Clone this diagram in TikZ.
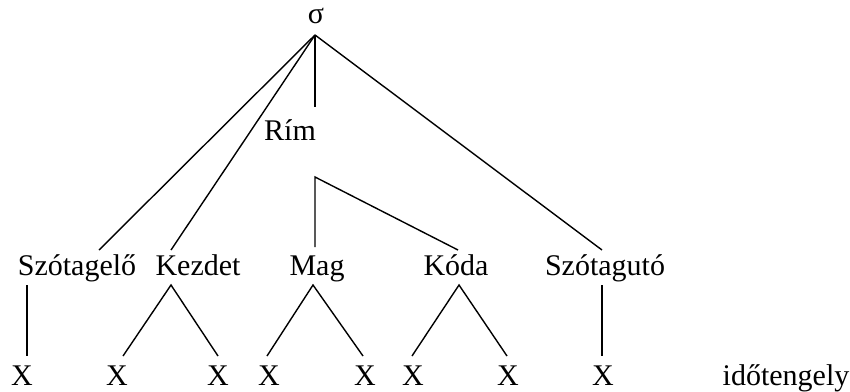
\documentclass[tikz,border=0pt]{standalone}
\usepackage{fontspec}
\setmainfont{Liberation Serif}
\begin{document}
\begin{tikzpicture}[x=1pt,y=-1pt,
  lbl/.style={anchor=base,inner sep=0pt,font=\fontsize{30}{36}\selectfont},
  branch/.style={line width=1.4pt}]
\useasboundingbox (0,0) rectangle (850,391);

% labels
\node[lbl] (sigma) at (316,23) {σ};
\node[lbl] (rim) at (290,140) {Rím};
\node[lbl] (szelo) at (77,275) {Szótagelő};
\node[lbl] (kezdet) at (198,275) {Kezdet};
\node[lbl] (mag) at (317,275) {Mag};
\node[lbl] (koda) at (456,275) {Kóda};
\node[lbl] (szuto) at (605,275) {Szótagutó};
\node[lbl] (x1) at (22,385) {X};
\node[lbl] (x2) at (117,385) {X};
\node[lbl] (x3) at (218,385) {X};
\node[lbl] (x4) at (269,385) {X};
\node[lbl] (x5) at (365,385) {X};
\node[lbl] (x6) at (413,385) {X};
\node[lbl] (x7) at (508,385) {X};
\node[lbl] (x8) at (603,385) {X};
\node[lbl] (ido) at (786,385) {időtengely};

% attachment points of the branches
\coordinate (sigma-b) at (315,35);
\coordinate (rim-t) at (315,107);
\coordinate (rim-b) at (315,177);
\coordinate (szelo-t) at (99,250);
\coordinate (kezdet-t) at (171,250);
\coordinate (mag-t) at (315,247);
\coordinate (koda-t) at (458,250);
\coordinate (szuto-t) at (602,250);
\coordinate (szelo-b) at (27,285);
\coordinate (kezdet-b) at (171,285);
\coordinate (mag-b) at (313,285);
\coordinate (koda-b) at (459,285);
\coordinate (szuto-b) at (602,285);
\coordinate (x1-t) at (27,356);
\coordinate (x2-t) at (123,356);
\coordinate (x3-t) at (218,356);
\coordinate (x4-t) at (267,356);
\coordinate (x5-t) at (363,356);
\coordinate (x6-t) at (412,356);
\coordinate (x7-t) at (507,356);
\coordinate (x8-t) at (602,356);

% syllable level
\draw[branch] (sigma-b) -- (szelo-t);
\draw[branch] (sigma-b) -- (kezdet-t);
\draw[branch] (sigma-b) -- (rim-t);
\draw[branch] (sigma-b) -- (szuto-t);
% rhyme
\draw[branch] (mag-t) -- (rim-b) -- (koda-t);
% timing tier
\draw[branch] (szelo-b) -- (x1-t);
\draw[branch] (x2-t) -- (kezdet-b) -- (x3-t);
\draw[branch] (x4-t) -- (mag-b) -- (x5-t);
\draw[branch] (x6-t) -- (koda-b) -- (x7-t);
\draw[branch] (szuto-b) -- (x8-t);
\end{tikzpicture}
\end{document}
